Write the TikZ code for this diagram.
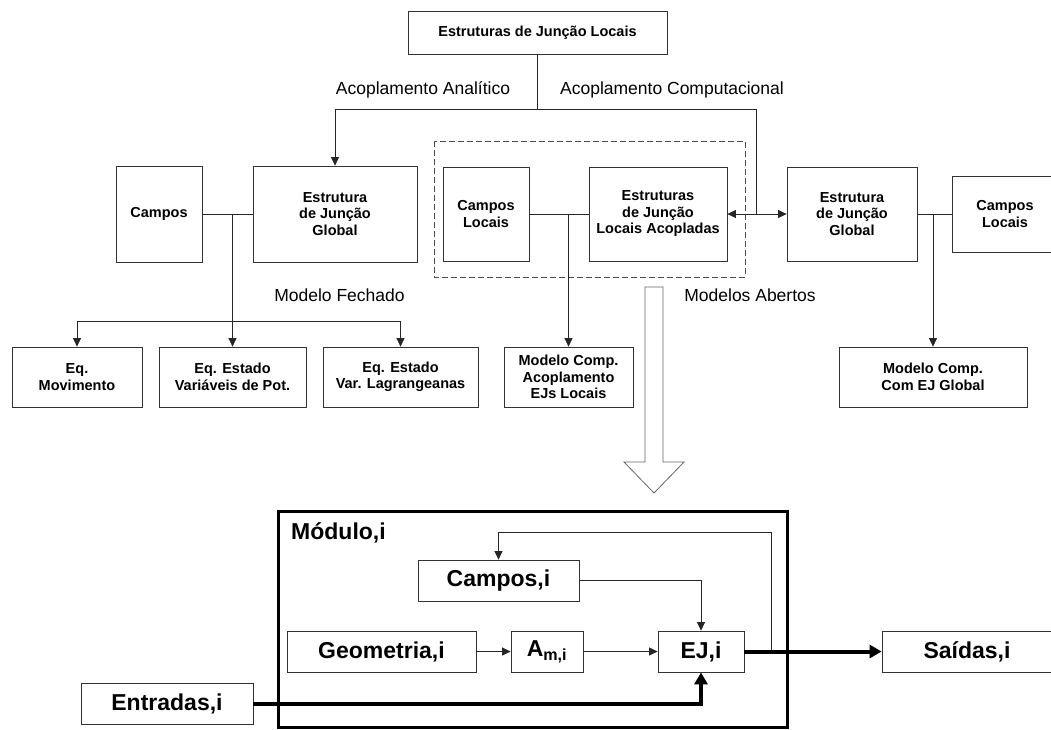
\documentclass[tikz,border=0pt]{standalone}
\usepackage{fontspec}
\setmainfont{Liberation Sans}
\usetikzlibrary{arrows.meta}
\begin{document}
\begin{tikzpicture}[x=1pt,y=-1pt,
  box/.style={draw=black!80, line width=0.8pt, inner sep=0pt, align=center,
    font=\bfseries\fontsize{14.5}{16.5}\selectfont},
  bigbox/.style={draw=black!80, line width=0.8pt, inner sep=0pt, align=center,
    font=\bfseries\fontsize{23}{26}\selectfont},
  lbl/.style={inner sep=0pt, font=\fontsize{17.5}{20}\selectfont},
  wire/.style={draw=black!85, line width=0.8pt},
  arr/.style={wire, -{Triangle[length=8.5pt,width=8pt]}},
  dblarr/.style={wire, {Triangle[length=8.5pt,width=8pt]}-{Triangle[length=8.5pt,width=8pt]}},
  heavy/.style={draw=black, line width=4pt, line join=miter, -{Triangle[length=12pt,width=13pt]}},
  dashbox/.style={draw=black!70, line width=0.8pt, dash pattern=on 6pt off 3pt},
  modbox/.style={draw=black, line width=3pt},
  hollow/.style={draw=black!60, line width=0.8pt, fill=white, line join=miter}
]
\useasboundingbox[fill=white] (0,0) rectangle (1051,729);

% --- upper diagram: boxes ---
\node[box, minimum width=259pt, minimum height=43pt] (top) at (537.5,32.5) {Estruturas de Junção Locais};

\node[box, minimum width=86pt,  minimum height=96pt] (campos) at (159,214) {Campos};
\node[box, minimum width=164pt, minimum height=96pt] (ejg) at (335,214) {Estrutura\\de Junção\\Global};

\node[box, minimum width=86pt,  minimum height=94pt] (cl)  at (486,214) {Campos\\Locais};
\node[box, minimum width=138pt, minimum height=94pt] (eja) at (658,214) {Estruturas\\de Junção\\Locais Acopladas};

\node[box, minimum width=130pt, minimum height=94pt] (ejr) at (852,214) {Estrutura\\de Junção\\Global};
\node[box, minimum width=106pt, minimum height=76pt] (clr) at (1005,214) {Campos\\Locais};

\node[box, minimum width=130pt, minimum height=60pt] (mov) at (77,377) {Eq.\\Movimento};
\node[box, minimum width=147pt, minimum height=60pt] (var) at (232.5,377) {Eq. Estado\\Variáveis de Pot.};
\node[box, minimum width=155pt, minimum height=60pt] (lag) at (400.5,377) {Eq. Estado\\Var. Lagrangeanas};
\node[box, minimum width=129pt, minimum height=60pt] (mca) at (568.5,377) {Modelo Comp.\\Acoplamento\\EJs Locais};
\node[box, minimum width=188pt, minimum height=60pt] (mcg) at (933,377) {Modelo Comp.\\Com EJ Global};

% group of the coupled local structures
\draw[dashbox] (434,141) rectangle (745,277);

% --- upper diagram: labels ---
\node[lbl] (lan) at (423,90) {Acoplamento Analítico};
\node[lbl] (lco) at (672,90) {Acoplamento Computacional};
\node[lbl] (lfe) at (339.5,295) {Modelo Fechado};
\node[lbl] (lab) at (750,295) {Modelos Abertos};

% --- upper diagram: connectors ---
\coordinate (hub) at (537.5,109);
\coordinate (cc)  at (756,214);
\draw[wire] (top.south) -- (hub);
\draw[arr]  (hub) -| (ejg.north);
\draw[wire] (hub) -| (cc);
\draw[dblarr] (eja.east) -- (ejr.west);

\draw[wire] (campos.east) -- (ejg.west);
\draw[arr]  (campos.east -| var.north) -- (var.north);
\coordinate (fork) at (232.5,321);
\draw[wire] (fork -| mov.north) -- (fork -| lag.north);
\draw[arr]  (fork -| mov.north) -- (mov.north);
\draw[arr]  (fork -| lag.north) -- (lag.north);

\draw[wire] (cl.east) -- (eja.west);
\draw[arr]  (cl.east -| mca.north) -- (mca.north);

\draw[wire] (ejr.east) -- (clr.west);
\draw[arr]  (ejr.east -| mcg.north) -- (mcg.north);

% large hollow arrow pointing to the module detail
\draw[hollow] (645,287) -- (663,287) -- (663,462) -- (684,462) -- (654,493)
  -- (624,462) -- (645,462) -- cycle;

% --- module detail ---
\draw[modbox] (278,511) rectangle (787,727.5);
\node[anchor=west, inner sep=0pt, font=\bfseries\fontsize{23}{26}\selectfont] (mod) at (291,533) {Módulo,i};

\node[bigbox, minimum width=161pt, minimum height=41pt] (campi) at (498.5,580.5) {Campos,i};
\node[bigbox, minimum width=189pt, minimum height=41pt] (geo) at (381.5,651.5) {Geometria,i};
\node[bigbox, minimum width=72pt,  minimum height=41pt] (am)  at (547,651.5) {A\textsubscript{m,i}};
\node[bigbox, minimum width=86pt,  minimum height=41pt] (ej)  at (701,651.5) {EJ,i};
\node[bigbox, minimum width=172pt, minimum height=41pt] (entr) at (167,703.5) {Entradas,i};
\node[bigbox, minimum width=170pt, minimum height=41pt] (sai) at (967,651.5) {Saídas,i};

\draw[arr] (geo.east) -- (am.west);
\draw[arr] (am.east) -- (ej.west);
\draw[arr] (campi.east) -| (ej.north);
\coordinate (fb)    at (771,651.5);
\coordinate (fbtop) at (771,532);
\draw[arr] (fb) -- (fbtop) -| (campi.north);
\draw[heavy] (ej.east) -- (sai.west);
\draw[heavy] (entr.east) -| (ej.south);

\end{tikzpicture}
\end{document}
